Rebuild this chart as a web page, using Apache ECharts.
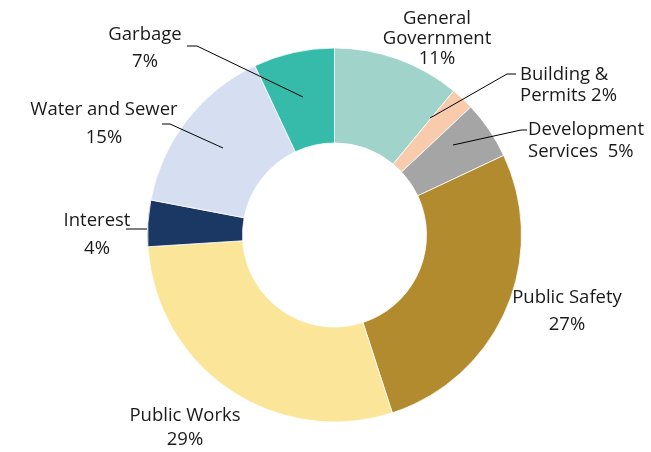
<!DOCTYPE html>
<html>
<head>
<meta charset="utf-8">
<script src="https://cdn.jsdelivr.net/npm/echarts@6/dist/echarts.min.js"></script>
<style>
  html, body { margin: 0; padding: 0; background: #fff; }
  #chart { width: 651px; height: 452px; }
</style>
</head>
<body>
<div id="chart"></div>
<script>
// Expenditure shares by function (percent of total)
var categories = ['General Government', 'Building & Permits', 'Development Services',
                  'Public Safety', 'Public Works', 'Interest', 'Water and Sewer', 'Garbage'];
var shares = [11, 2, 5, 27, 29, 4, 15, 7];
var sliceColors = ['#A0D4CB', '#F8CBAD', '#A5A5A5', '#B38B2F', '#FBE599', '#1B3864', '#D5DFF1', '#36BAAA'];

// Label text: how each category name breaks across lines, and what joins it to the percent
var labelNames = ['General\nGovernment', 'Building &\nPermits', 'Development\nServices',
                  'Public Safety', 'Public Works', 'Interest', 'Water and Sewer', 'Garbage'];
var labelJoin = ['\n', ' ', '  ', '\n', '\n', '\n', '\n', '\n'];

// Label placement (anchor point, alignment, line spacing) and leader lines
var labelPlacement = [
  { x: 437, y: 39,  align: 'center', lh: 20 },
  { x: 520, y: 85,  align: 'left',   lh: 21, line: [[430, 118], [507, 74], [516, 74]] },
  { x: 528, y: 141, align: 'left',   lh: 22, line: [[453, 145], [521, 130], [527, 130]] },
  { x: 567, y: 311, align: 'center', lh: 27 },
  { x: 185, y: 428, align: 'center', lh: 24 },
  { x: 97,  y: 235, align: 'center', lh: 28, line: [[147, 229], [126, 229]] },
  { x: 104, y: 124, align: 'center', lh: 28, line: [[223, 148], [170, 124], [162, 124]] },
  { x: 145, y: 48,  align: 'center', lh: 27, line: [[303, 97], [197, 46], [187, 46]] }
];

var ringCenter = [334.5, 235];
var ringRadius = [92, 187];
var textFont = { color: '#1a1a1a', fontFamily: 'Open Sans', fontSize: 18.5 };

// Coloured ring
var ringData = categories.map(function (name, i) {
  return { name: name, value: shares[i], itemStyle: { color: sliceColors[i] } };
});

// Same slices, invisible, carrying the labels so their leader lines sit above the ring
var labelData = categories.map(function (name, i) {
  return {
    name: name,
    value: shares[i],
    label: { lineHeight: labelPlacement[i].lh, align: labelPlacement[i].align },
    labelLine: { show: !!labelPlacement[i].line }
  };
});

var chart = echarts.init(document.getElementById('chart'), null, { renderer: 'canvas' });
chart.setOption({
  animation: false,
  backgroundColor: '#ffffff',
  series: [{
    type: 'pie',
    z: 2,
    center: ringCenter,
    radius: ringRadius,
    startAngle: 90,
    clockwise: true,
    silent: true,
    label: { show: false },
    labelLine: { show: false },
    itemStyle: { borderColor: '#ffffff', borderWidth: 0.8 },
    data: ringData
  }, {
    type: 'pie',
    z: 3,
    center: ringCenter,
    radius: ringRadius,
    startAngle: 90,
    clockwise: true,
    silent: true,
    avoidLabelOverlap: false,
    itemStyle: { color: 'rgba(0,0,0,0)', borderWidth: 0 },
    label: {
      show: true,
      position: 'outside',
      color: textFont.color,
      fontFamily: textFont.fontFamily,
      fontSize: textFont.fontSize,
      formatter: function (p) {
        return labelNames[p.dataIndex] + labelJoin[p.dataIndex] + p.value + '%';
      }
    },
    labelLine: {
      show: true,
      lineStyle: { color: '#000000', width: 1 }
    },
    labelLayout: function (params) {
      var pl = labelPlacement[params.dataIndex];
      var out = { x: pl.x, y: pl.y, align: pl.align, verticalAlign: 'middle' };
      if (pl.line) { out.labelLinePoints = pl.line; }
      return out;
    },
    data: labelData
  }]
});
</script>
</body>
</html>
